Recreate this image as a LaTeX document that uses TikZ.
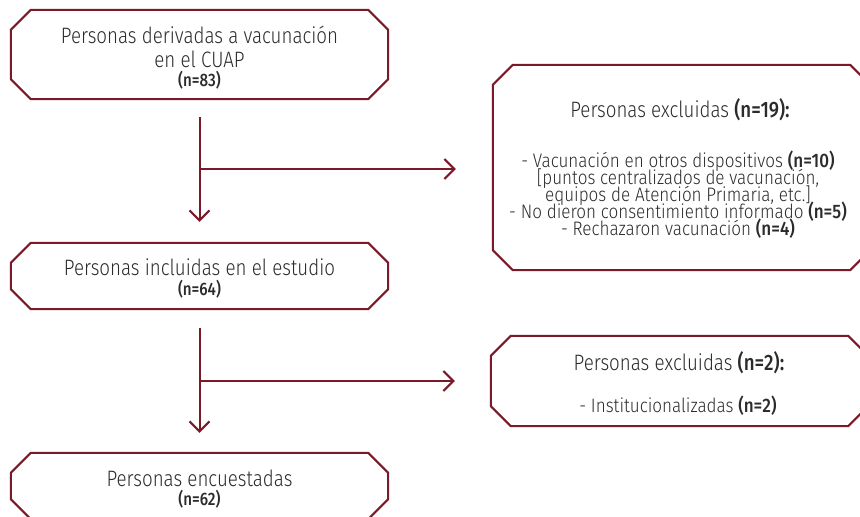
\documentclass[tikz,border=0pt]{standalone}
\usepackage{fontspec}
\setmainfont{Fira Sans Light}[BoldFont=Fira Sans Medium,FakeStretch=0.84]
\newfontfamily\listfam{Fira Sans Light}[BoldFont=Fira Sans Medium,FakeStretch=0.875]
\usetikzlibrary{arrows.meta,calc}
\definecolor{wine}{HTML}{7A1A28}
\definecolor{txt}{HTML}{2B2B2B}
\newcommand\nb[1]{{\bfseries #1}}
\newcommand\ns[1]{{\fontsize{18}{18}\selectfont\bfseries #1}}
\newcommand\chamf[1]{\draw[boxline] ([xshift=20pt]#1.north west) -- ([xshift=-20pt]#1.north east) -- ([yshift=-20pt]#1.north east) -- ([yshift=20pt]#1.south east) -- ([xshift=-20pt]#1.south east) -- ([xshift=20pt]#1.south west) -- ([yshift=20pt]#1.south west) -- ([yshift=-20pt]#1.north west) -- cycle;}
\tikzset{
  boxline/.style={draw=wine,line width=2pt,line join=miter},
  stagebox/.style={rectangle,inner sep=0pt,minimum width=377pt},
  boxtext/.style={inner sep=0pt,text=txt,align=center,font=\fontsize{22.3}{24}\selectfont},
  headline/.style={inner sep=0pt,anchor=base,text=txt,font=\fontsize{22.3}{24}\selectfont},
  listline/.style={inner sep=0pt,anchor=base,text=txt,font=\listfam\fontsize{19.5}{17}\selectfont},
  conn/.style={draw=wine,line width=2pt,-{Straight Barb[length=10pt,width=20pt,line width=2pt]}},
}
\begin{document}
\lineskiplimit=-40pt\relax
\begin{tikzpicture}[x=1pt,y=-1pt]
\useasboundingbox (0,0) rectangle (860,517);
% boxes
\node[stagebox,minimum height=89pt] (b1) at (199.5,54.5) {};
\node[stagebox,minimum height=205pt] (b2) at (681.5,167.5) {};
\node[stagebox,minimum height=66pt] (b3) at (199.5,276) {};
\node[stagebox,minimum height=90pt] (b4) at (679.5,381) {};
\node[stagebox,minimum height=66pt] (b5) at (199.5,486) {};
\chamf{b1}\chamf{b2}\chamf{b3}\chamf{b4}\chamf{b5}
% texts, left column
\node[boxtext] (t1) at ([yshift=-3pt]b1.center)
  {Personas derivadas a vacunación\\ en el CUAP\\[-5pt] \ns{(n=83)}};
\node[boxtext] (t3) at ([yshift=-2.5pt]b3.center)
  {Personas incluidas en el estudio\\[-4pt] \ns{(n=64)}};
\node[boxtext] (t5) at ([yshift=-3pt]b5.center)
  {Personas encuestadas\\[-5pt] \ns{(n=62)}};
% texts, first exclusion box
\node[headline] (h2) at (680,117) {Personas excluidas \nb{(n=19):}};
\node[listline] (l21) at (678,167) {- Vacunación en otros dispositivos \nb{(n=10)}};
\node[listline] (l22) at (678,184) {[puntos centralizados de vacunación,};
\node[listline] (l23) at (678,201) {equipos de Atención Primaria, etc.]};
\node[listline] (l24) at (678,218) {- No dieron consentimiento informado \nb{(n=5)}};
\node[listline] (l25) at (678,235) {- Rechazaron vacunación \nb{(n=4)}};
% texts, second exclusion box
\node[headline] (h4) at (679,370) {Personas excluidas \nb{(n=2):}};
\node[listline] (l41) at (678,412) {- Institucionalizadas \nb{(n=2)}};
% connectors
\coordinate (j1) at (200,169);
\coordinate (j2) at (200,381);
\draw[conn] ([yshift=-18pt]b1.south) -- ([yshift=21pt]b3.north);
\draw[conn,shorten >=37pt] (j1) -- (j1 -| b2.west);
\draw[conn] ([yshift=-19pt]b3.south) -- ([yshift=20pt]b5.north);
\draw[conn,shorten >=36pt] (j2) -- (j2 -| b4.west);
\end{tikzpicture}
\end{document}
